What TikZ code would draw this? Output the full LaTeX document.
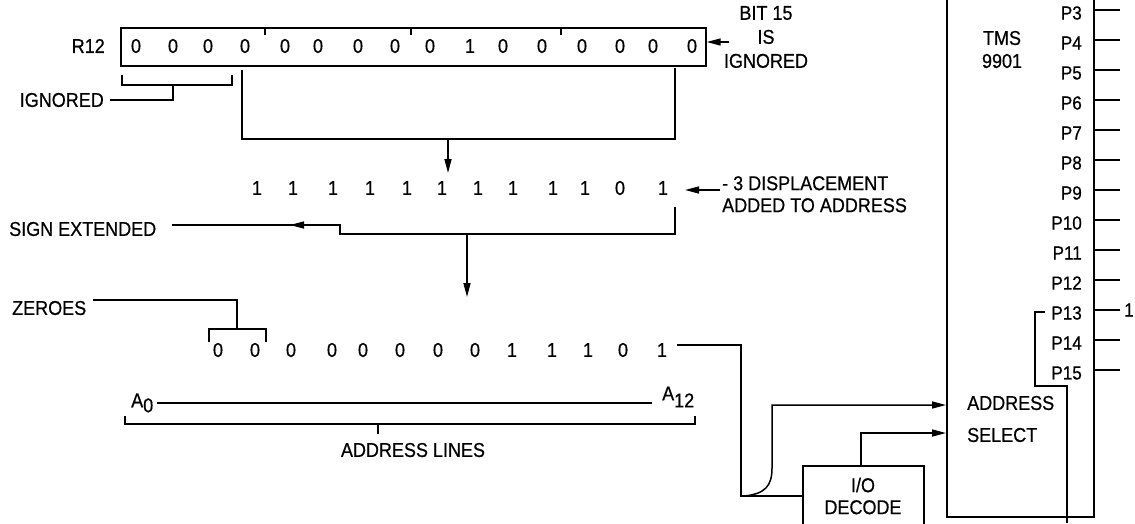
\documentclass[tikz,border=0pt]{standalone}
\usepackage{fontspec}
\setmainfont{Liberation Sans}
\newfontfamily\lblfont{Liberation Sans}[FakeBold=0.6, FakeStretch=0.9]
\usetikzlibrary{arrows.meta}
\begin{document}
\begin{tikzpicture}[x=1pt,y=-1pt,
  lbl/.style={font=\lblfont\fontsize{20}{22}\selectfont, inner sep=0pt},
  pin/.style={font=\lblfont\fontsize{19}{20}\selectfont, inner sep=0pt},
  wire/.style={line width=1.5pt},
  bus/.style={line width=2.2pt},
  box/.style={draw, line width=1.7pt},
  arr/.style={wire,-{Triangle[length=14pt,width=7pt]}},
]
\useasboundingbox (0,0) rectangle (1135,523);
\clip (0,0) rectangle (1135,523);

% ---------- R12 register ----------
\node[lbl, anchor=east] (r12) at (105,46) {R12};
\node[box, minimum width=585pt, minimum height=38pt, anchor=north west] (reg) at (120,27) {};
\foreach \x/\d [count=\i] in {136/0,173/0,208/0,245/0,285/0,318/0,358/0,395/0,430/0,470/1,503/0,542/0,582/0,620/0,653/0,692/0}
  \node[lbl] (r\i) at (\x,46) {\d};
\foreach \x in {265,411,561}
  \draw[wire] (\x,27) -- (\x,35);

% bit 15 note
\node[lbl, align=center, font=\lblfont\fontsize{20}{24}\selectfont] (bit) at (766,37) {BIT 15\\IS\\IGNORED};
\coordinate (bitT) at (729,42);
\draw[arr] (bitT) -- (reg.east |- bitT);

% ignored bracket
\node[lbl, anchor=east] (ign) at (104,100) {IGNORED};
\draw[wire] (122,75) -- (122,85) -- (232,85) -- (232,75);
\draw[wire] (173,85) -- (173,100) -- (110,100);

% bracket to second row
\draw[wire] (242,70) -- (242,139) -- (675,139) -- (675,68);
\coordinate (down1) at (448,139);

% ---------- second row ----------
\foreach \x/\d [count=\i] in {257/1,293/1,333/1,370/1,407/1,442/1,478/1,513/1,553/1,585/1,620/0,663/1}
  \node[lbl] (s\i) at (\x,188) {\d};
\draw[arr] (down1) -- (448,173);

\node[lbl, anchor=north west, align=left] (disp) at (722,176) {- 3 DISPLACEMENT\\ADDED TO ADDRESS};
\coordinate (dispT) at (720,190);
\draw[arr] (dispT) -- (685,190);

% sign extended
\node[lbl, anchor=west] (se) at (9,229) {SIGN EXTENDED};
\draw[wire] (675,207) -- (675,234) -- (340,234) -- (340,225) -- (172,225);
\draw[arr] (340,225) -- (290,225);
\draw[arr] (467,234) -- (467,297);

% ---------- third row ----------
\node[lbl, anchor=west] (zer) at (12,308) {ZEROES};
\draw[wire] (93,300) -- (237,300) -- (237,329);
\draw[wire] (209,342) -- (209,329) -- (266,329) -- (266,342);
\foreach \x/\d [count=\i] in {218/0,255/0,291/0,332/0,363/0,400/0,438/0,475/0,512/1,552/1,588/1,623/0,662/1}
  \node[lbl] (t\i) at (\x,350) {\d};

% address lines
\node[lbl, anchor=west] (a0) at (131,403) {A\raisebox{-5pt}{0}};
\node[lbl, anchor=west] (a12) at (662,397) {A\raisebox{-7pt}{12}};
\draw[bus] (157,403) -- (652,403);
\draw[wire] (125,416) -- (125,424) -- (695,424) -- (695,416);
\draw[wire] (378,424) -- (378,434);
\node[lbl] (al) at (413,450) {ADDRESS LINES};

% ---------- TMS 9901 ----------
\node[box, minimum width=147pt, minimum height=540pt, anchor=south west] (chip) at (946,518) {};
\node[lbl] (tms) at (1002,38) {TMS};
\node[lbl] (n9901) at (1002,61) {9901};
\foreach \n [count=\i from 0] in {3,...,15} {
  \pgfmathsetmacro\yy{10+30*\i}
  \node[pin, anchor=east] (p\n) at (1082,\yy+3) {P\n};
  \draw[wire] (chip.east |- 0,\yy) -- (1120,\yy);
}
\node[pin, anchor=west] (one) at (1124,310) {1};
\draw[wire] (1045,312) -- (1035,312) -- (1035,386) -- (1067,386) -- (1067,523);

\node[lbl, anchor=west] (addr) at (967,403) {ADDRESS};
\node[lbl, anchor=west] (sel) at (967,435) {SELECT};

% I/O decode
\node[box, minimum width=121pt, minimum height=70pt, anchor=north west] (io) at (802,465) {};
\node[lbl, align=center] (iot) at (863,496) {I/O\\DECODE};

% connections
\coordinate (c1) at (677,345);
\draw[wire] (c1) -- (741,345) -- (741,496) -- (io.west |- 0,496);
\draw[arr] (744,496) .. controls (765,494) and (772,486) .. (772,468) -- (772,405) -- (chip.west |- 0,405);
\draw[arr] (861,465) -- (861,433) -- (chip.west |- 0,433);
\end{tikzpicture}
\end{document}
